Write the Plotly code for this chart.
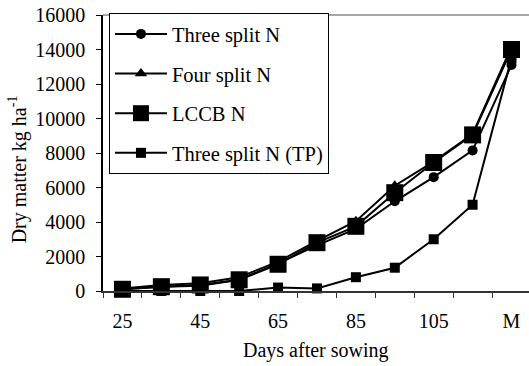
import plotly.graph_objects as go

# Sampling dates (days after sowing); the final harvest at maturity (M)
# sits one sampling interval after day 115
day_pos = [25, 35, 45, 55, 65, 75, 85, 95, 105, 115, 125]
tick_pos = [25, 45, 65, 85, 105, 125]
tick_text = ["25", "45", "65", "85", "105", "M"]

# Dry matter accumulation, kg/ha
three_split = [100, 250, 300, 650, 1600, 2650, 3600, 5200, 6600, 8150, 13100]
four_split = [150, 350, 450, 800, 1700, 2900, 4050, 6100, 7500, 9100, 14150]
lccb = [100, 250, 350, 650, 1550, 2800, 3750, 5700, 7450, 9050, 14000]
three_split_tp = [0, 0, 0, 0, 200, 150, 800, 1350, 3000, 5000, 13500]

FONT = "Liberation Serif"

series = [
    ("Three split N", three_split, "circle", 10),
    ("Four split N", four_split, "triangle-up", 11),
    ("LCCB N", lccb, "square", 17),
    ("Three split N (TP)", three_split_tp, "square", 10),
]

fig = go.Figure()
for i, (name, vals, sym, size) in enumerate(series):
    fig.add_trace(go.Scatter(
        x=day_pos, y=vals, name=name, mode="lines+markers",
        line=dict(color="black", width=2),
        marker=dict(symbol=sym, size=size, color="black"),
        legendgroup=f"g{i}", cliponaxis=False,
    ))

fig.update_layout(
    width=529, height=366,
    margin=dict(l=103, r=0, t=15, b=75),
    paper_bgcolor="white", plot_bgcolor="white",
    font=dict(family=FONT, size=20, color="black"),
    showlegend=True,
    legend=dict(
        x=0.014, y=1.007, xanchor="left", yanchor="top",
        bgcolor="white", bordercolor="black", borderwidth=1,
        font=dict(family=FONT, size=20.5, color="black"),
        itemwidth=52, tracegroupgap=10,
    ),
    xaxis=dict(
        range=[20, 129.5],
        tickmode="array", tickvals=tick_pos, ticktext=tick_text,
        ticks="", showline=True, linecolor="#333", linewidth=1.5,
        showgrid=False, zeroline=False, ticklabelstandoff=11,
        minor=dict(ticks="outside", ticklen=5, tickwidth=1, tickcolor="#333",
                   tick0=20, dtick=10, showgrid=False),
    ),
    yaxis=dict(
        range=[0, 16000], tickmode="linear", tick0=0, dtick=2000,
        tickformat="d",
        ticks="outside", ticklen=5, tickwidth=1, tickcolor="black",
        showline=True, linecolor="black", linewidth=1.5,
        showgrid=False, zeroline=False, ticklabelstandoff=7,
    ),
    shapes=[dict(type="line", xref="paper", yref="paper", x0=0, x1=1,
                 y0=1, y1=1, line=dict(color="#888", width=1.5), layer="below")],
    annotations=[
        dict(text="Dry matter kg ha<sup>-1</sup>", xref="paper", yref="paper",
             x=-0.2, y=0.44, xanchor="center", yanchor="middle",
             textangle=-90, showarrow=False, font=dict(size=20)),
        dict(text="Days after sowing", xref="paper", yref="paper",
             x=0.5, y=-0.214, xanchor="center", yanchor="middle",
             showarrow=False, font=dict(size=20)),
    ],
)

fig.write_html("out.html")
